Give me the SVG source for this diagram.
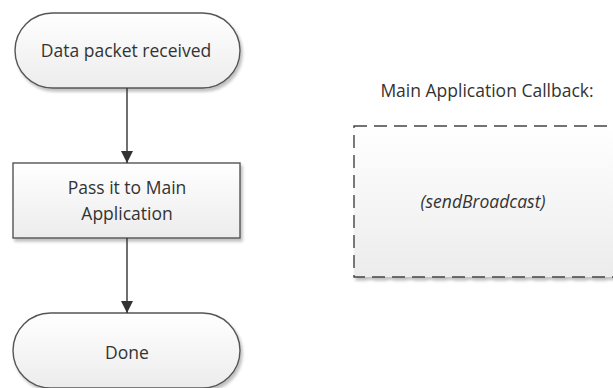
<svg xmlns="http://www.w3.org/2000/svg" width="613" height="388" viewBox="0 0 613 388">
<defs>
<linearGradient id="g" x1="0" y1="0" x2="0" y2="1"><stop offset="0" stop-color="#ffffff"/><stop offset="1" stop-color="#ececec"/></linearGradient>
<filter id="sh" x="-10%" y="-10%" width="130%" height="140%"><feGaussianBlur in="SourceAlpha" stdDeviation="1.5"/><feOffset dx="2" dy="3"/><feComponentTransfer><feFuncA type="linear" slope="0.25"/></feComponentTransfer><feMerge><feMergeNode/><feMergeNode in="SourceGraphic"/></feMerge></filter>
<marker id="arr" viewBox="0 0 10 10" refX="10" refY="5" markerWidth="13" markerHeight="12" markerUnits="userSpaceOnUse" orient="auto"><path d="M0,0 L10,5 L0,10 z" fill="#333"/></marker>
</defs>
<style>
.shape{fill:url(#g);stroke:#555;stroke-width:1.4;filter:url(#sh)}
.t{font-family:"Open Sans","Noto Sans",sans-serif;font-size:17.5px;fill:#333;text-anchor:middle}
.c{stroke:#333;stroke-width:1.4;fill:none;marker-end:url(#arr)}
</style>
<rect width="613" height="388" fill="#fff"/>
<g id="start"><rect class="shape" x="15" y="13" width="225" height="75" rx="37.5"/><text class="t" x="126" y="57">Data packet received</text></g>
<g id="pass"><rect class="shape" x="13" y="163" width="227" height="75"/><text class="t" x="127" y="194">Pass it to Main</text><text class="t" x="127" y="220">Application</text></g>
<g id="done"><rect class="shape" x="13" y="313" width="227" height="75" rx="37.5"/><text class="t" x="127" y="359">Done</text></g>
<g id="callback"><text class="t" x="487" y="97">Main Application Callback:</text><rect x="354" y="126" width="290" height="151" fill="url(#g)" stroke="#444" stroke-width="1.4" stroke-dasharray="13,7" filter="url(#sh)"/><text class="t" x="483" y="208" font-style="italic">(sendBroadcast)</text></g>
<g id="connectors"><line class="c" x1="127" y1="88" x2="127" y2="163"/><line class="c" x1="127" y1="238" x2="127" y2="313"/></g>
</svg>
